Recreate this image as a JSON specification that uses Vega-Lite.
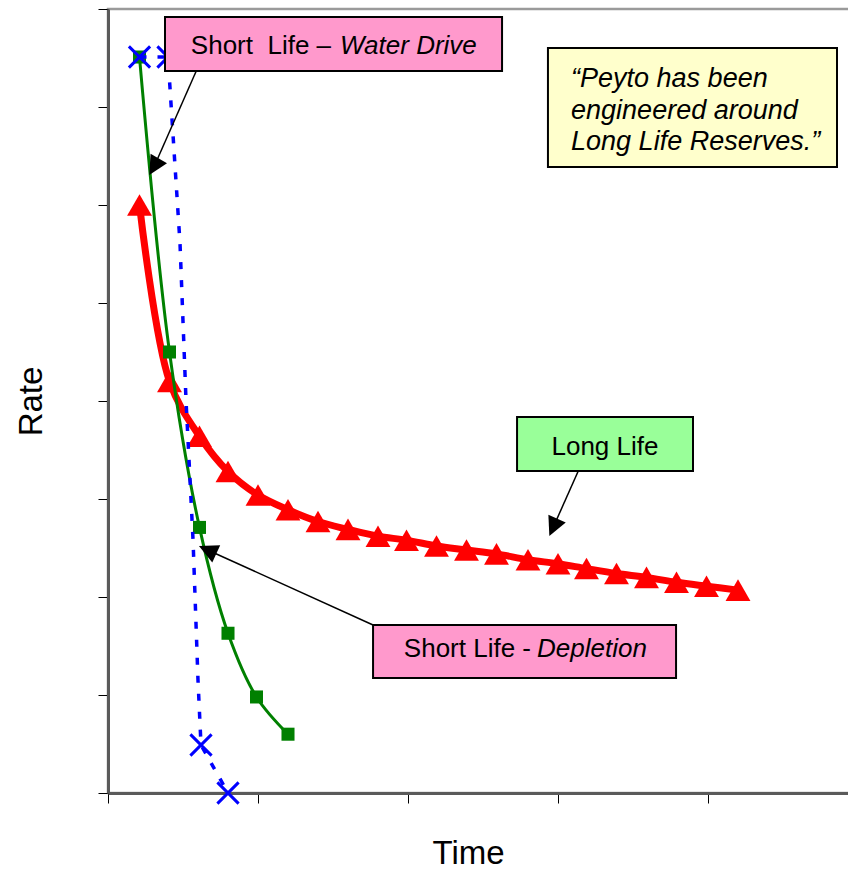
{
  "$schema": "https://vega.github.io/schema/vega-lite/v6.json",
  "width": 750,
  "height": 784,
  "autosize": {"type": "none"},
  "padding": {"left": 108, "top": 9, "right": 0, "bottom": 77},
  "background": "white",
  "config": {
    "font": "Liberation Sans",
    "view": {"stroke": "#9a9a9a", "strokeWidth": 2.5},
    "axis": {"labels": false, "grid": false}
  },
  "datasets": {
    "long": [
      {"x": 0.21, "y": 6.0}, {"x": 0.41, "y": 4.2}, {"x": 0.61, "y": 3.64}, {"x": 0.8, "y": 3.28},
      {"x": 1.0, "y": 3.04}, {"x": 1.2, "y": 2.89}, {"x": 1.4, "y": 2.77}, {"x": 1.6, "y": 2.69},
      {"x": 1.8, "y": 2.62}, {"x": 1.99, "y": 2.58}, {"x": 2.19, "y": 2.52}, {"x": 2.39, "y": 2.48},
      {"x": 2.59, "y": 2.44}, {"x": 2.8, "y": 2.38}, {"x": 3.0, "y": 2.34}, {"x": 3.19, "y": 2.29},
      {"x": 3.39, "y": 2.24}, {"x": 3.59, "y": 2.2}, {"x": 3.79, "y": 2.15}, {"x": 3.99, "y": 2.11},
      {"x": 4.2, "y": 2.07}
    ],
    "depletion": [
      {"x": 0.21, "y": 7.51}, {"x": 0.41, "y": 4.5}, {"x": 0.61, "y": 2.71},
      {"x": 0.8, "y": 1.63}, {"x": 0.99, "y": 0.98}, {"x": 1.2, "y": 0.6}
    ],
    "water": [
      {"x": 0.21, "y": 7.51}, {"x": 0.4, "y": 7.51}, {"x": 0.48, "y": 5.61}, {"x": 0.52, "y": 4.01},
      {"x": 0.567, "y": 2.58}, {"x": 0.6, "y": 1.15}, {"x": 0.62, "y": 0.49}, {"x": 0.8, "y": 0.0}
    ],
    "waterPoints": [
      {"x": 0.21, "y": 7.51}, {"x": 0.4, "y": 7.51}, {"x": 0.62, "y": 0.49}, {"x": 0.8, "y": 0.0}
    ],
    "arrows": [
      {"x": 0.7, "y": 7.755, "x2": 0.307, "y2": 6.39},
      {"x": 3.153, "y": 3.347, "x2": 2.968, "y2": 2.711},
      {"x": 1.767, "y": 1.714, "x2": 0.664, "y2": 2.48}
    ],
    "boxes": [
      {"name": "water", "x": 0.38, "x2": 2.627, "y": 7.918, "y2": 7.367},
      {"name": "long", "x": 2.727, "x2": 3.9, "y": 3.837, "y2": 3.286},
      {"name": "depl", "x": 1.767, "x2": 3.787, "y": 1.714, "y2": 1.173},
      {"name": "quote", "x": 2.933, "x2": 4.86, "y": 7.602, "y2": 6.388}
    ],
    "textRight": [
      {"x": 1.487, "y": 7.541, "t": "Short\u00a0 Life –"},
      {"x": 2.82, "y": 1.391, "t": "Short Life -"}
    ],
    "textItalic": [
      {"x": 1.547, "y": 7.541, "t": "Water Drive"},
      {"x": 2.86, "y": 1.391, "t": "Depletion"}
    ],
    "textCenter": [
      {"x": 3.313, "y": 3.449, "t": "Long Life"}
    ],
    "quote": [
      {"x": 3.087, "y": 7.204, "t": "“Peyto has been"},
      {"x": 3.087, "y": 6.881, "t": "engineered around"},
      {"x": 3.087, "y": 6.558, "t": "Long Life Reserves.”"}
    ]
  },
  "encoding": {
    "x": {
      "field": "x", "type": "quantitative",
      "scale": {"domain": [0, 5], "nice": false, "zero": false},
      "axis": {
        "title": "Time", "values": [0, 1, 2, 3, 4, 5],
        "tickSize": 10, "tickColor": "black", "tickWidth": 1,
        "domainColor": "#5a5a5a", "domainWidth": 3,
        "titleFontSize": 33, "titleFontWeight": "normal", "titleColor": "black",
        "titleX": 360, "titleY": 70, "titleAlign": "center", "titleBaseline": "alphabetic"
      }
    },
    "y": {
      "field": "y", "type": "quantitative",
      "scale": {"domain": [0, 8], "nice": false, "zero": false},
      "axis": {
        "title": "Rate", "values": [0, 1, 2, 3, 4, 5, 6, 7, 8],
        "tickSize": 10, "tickColor": "black", "tickWidth": 1,
        "domainColor": "#5a5a5a", "domainWidth": 3,
        "titleFontSize": 33, "titleFontWeight": "normal", "titleColor": "black",
        "titleAngle": -90, "titleX": -67, "titleY": 392, "titleAlign": "center", "titleBaseline": "alphabetic"
      }
    }
  },
  "layer": [
    {"data": {"name": "long"}, "mark": {"type": "line", "color": "#FF0000", "strokeWidth": 7, "interpolate": "catmull-rom"}, "encoding": {}},
    {"data": {"name": "long"}, "mark": {"type": "point", "shape": "triangle-up", "filled": true, "color": "#FF0000", "opacity": 1, "size": 620}, "encoding": {}},
    {"data": {"name": "depletion"}, "mark": {"type": "line", "color": "#008000", "strokeWidth": 3, "interpolate": "catmull-rom"}, "encoding": {}},
    {"data": {"name": "depletion"}, "mark": {"type": "point", "shape": "square", "filled": true, "color": "#008000", "opacity": 1, "size": 170}, "encoding": {}},
    {"data": {"name": "water"}, "mark": {"type": "line", "color": "#0000FF", "strokeWidth": 3.5, "strokeDash": [7, 11]}, "encoding": {}},
    {"data": {"name": "waterPoints"}, "mark": {"type": "point", "shape": "M-1,-1L1,1M-1,1L1,-1", "filled": false, "stroke": "#0000FF", "strokeWidth": 3, "opacity": 1, "size": 450}, "encoding": {}},
    {"data": {"name": "arrows"}, "mark": {"type": "rule", "color": "black", "strokeWidth": 1.5}, "encoding": {"x2": {"field": "x2"}, "y2": {"field": "y2"}}},
    {"data": {"values": [{"x": 0.307, "y": 6.39}]}, "mark": {"type": "point", "shape": "M0,-1L-1,1L1,1Z", "filled": true, "color": "black", "opacity": 1, "size": 361, "angle": 210}, "encoding": {}},
    {"data": {"values": [{"x": 2.968, "y": 2.711}]}, "mark": {"type": "point", "shape": "M0,-1L-1,1L1,1Z", "filled": true, "color": "black", "opacity": 1, "size": 361, "angle": 204}, "encoding": {}},
    {"data": {"values": [{"x": 0.664, "y": 2.48}]}, "mark": {"type": "point", "shape": "M0,-1L-1,1L1,1Z", "filled": true, "color": "black", "opacity": 1, "size": 361, "angle": 294.6}, "encoding": {}},
    {"data": {"name": "boxes"}, "mark": {"type": "rect", "fill": "#808080", "xOffset": 2, "yOffset": 2}, "encoding": {"x2": {"field": "x2"}, "y2": {"field": "y2"}}},
    {"data": {"name": "boxes"}, "mark": {"type": "rect", "stroke": "black", "strokeWidth": 2, "opacity": 1},
      "encoding": {"x2": {"field": "x2"}, "y2": {"field": "y2"},
        "fill": {"field": "name", "type": "nominal", "legend": null,
          "scale": {"domain": ["water", "long", "depl", "quote"], "range": ["#FF99CC", "#99FF99", "#FF99CC", "#FFFFCC"]}}}},
    {"data": {"name": "textRight"}, "mark": {"type": "text", "align": "right", "baseline": "alphabetic", "fontSize": 26, "color": "black"}, "encoding": {"text": {"field": "t"}}},
    {"data": {"name": "textItalic"}, "mark": {"type": "text", "align": "left", "baseline": "alphabetic", "fontSize": 26, "fontStyle": "italic", "color": "black"}, "encoding": {"text": {"field": "t"}}},
    {"data": {"name": "textCenter"}, "mark": {"type": "text", "align": "center", "baseline": "alphabetic", "fontSize": 26, "color": "black"}, "encoding": {"text": {"field": "t"}}},
    {"data": {"name": "quote"}, "mark": {"type": "text", "align": "left", "baseline": "alphabetic", "fontSize": 27, "fontStyle": "italic", "color": "black"}, "encoding": {"text": {"field": "t"}}}
  ]
}
